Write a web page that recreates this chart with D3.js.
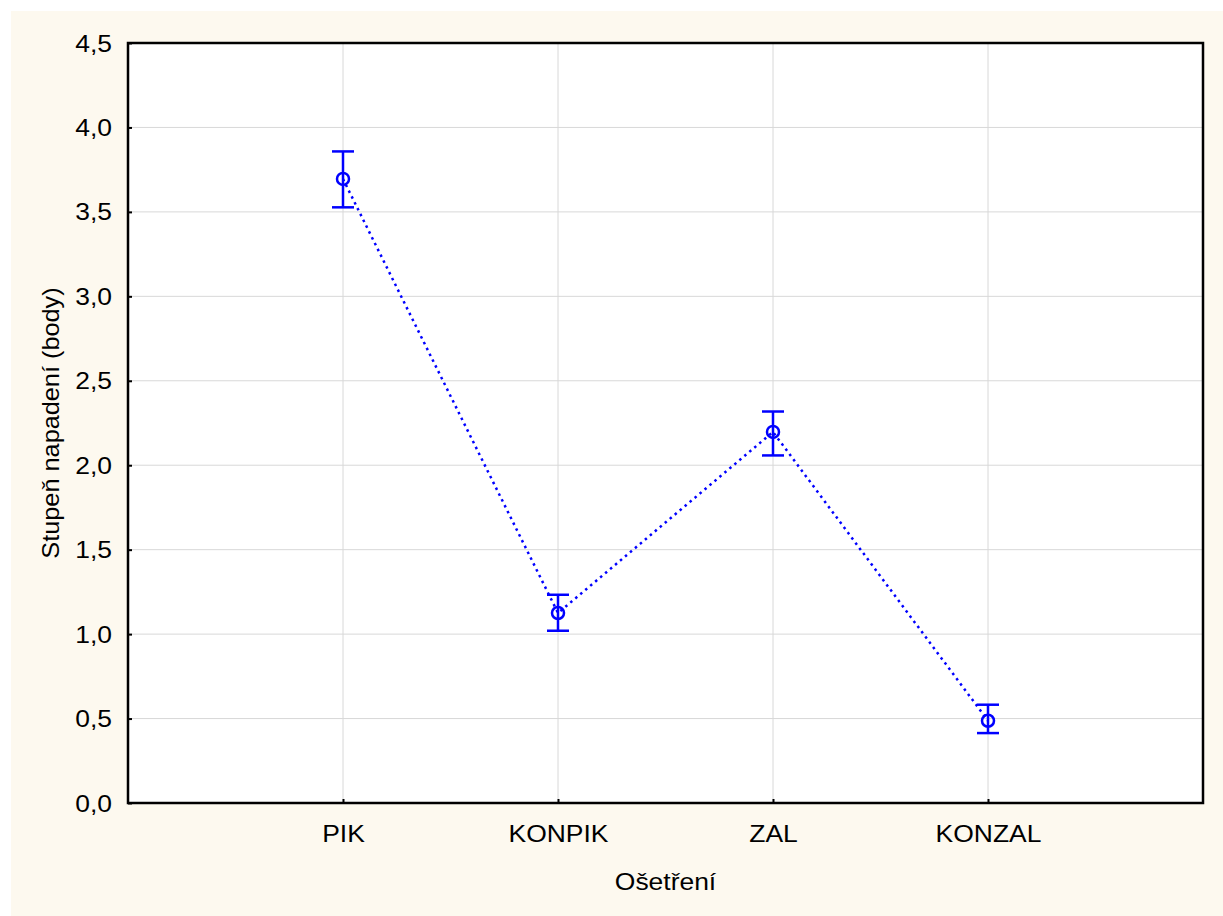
<!DOCTYPE html>
<html>
<head>
<meta charset="utf-8">
<script src="https://cdn.jsdelivr.net/npm/d3@7"></script>
<style>
  body { margin: 0; background: #ffffff; }
  text { font-family: "Liberation Sans", Arial, sans-serif; fill: #000; }
</style>
</head>
<body>
<div></div>
<script>
const width = 1223;
const height = 916;
const margin = { top: 43, right: 20, bottom: 113, left: 128 };
const stretch = 1.15; // text in the original is drawn a bit wider than Arial

// data
const treatments = ["PIK", "KONPIK", "ZAL", "KONZAL"];
const means = [3.695, 1.125, 2.197, 0.487];
const lower = [3.527, 1.02, 2.058, 0.414];
const upper = [3.858, 1.233, 2.318, 0.582];
const yTicks = [0, 0.5, 1, 1.5, 2, 2.5, 3, 3.5, 4, 4.5];

const points = treatments.map((t, i) => ({
  name: t,
  mean: means[i],
  lo: lower[i],
  hi: upper[i],
}));

const svg = d3
  .select("div")
  .append("svg")
  .attr("width", width)
  .attr("height", height);

// cream background panel
svg
  .append("rect")
  .attr("x", 11)
  .attr("y", 11)
  .attr("width", width - 11)
  .attr("height", height - 11)
  .attr("fill", "#fdf9ef");

const x0 = margin.left;
const x1 = 1203;
const y0 = 803;
const y1 = margin.top;

svg
  .append("rect")
  .attr("x", x0)
  .attr("y", y1)
  .attr("width", x1 - x0)
  .attr("height", y0 - y1)
  .attr("fill", "#fff");

const xScale = d3.scalePoint().domain(treatments).range([x0, x1]).padding(1);
const yScale = d3.scaleLinear().domain([0, 4.5]).range([y0, y1]);

// grid
svg
  .append("g")
  .selectAll("line")
  .data(yTicks.slice(1, -1))
  .enter()
  .append("line")
  .attr("x1", x0)
  .attr("x2", x1)
  .attr("y1", (d) => yScale(d))
  .attr("y2", (d) => yScale(d))
  .attr("stroke", "#d8d8d8")
  .attr("stroke-width", 1);

svg
  .append("g")
  .selectAll("line")
  .data(treatments)
  .enter()
  .append("line")
  .attr("x1", (d) => xScale(d))
  .attr("x2", (d) => xScale(d))
  .attr("y1", y1)
  .attr("y2", y0)
  .attr("stroke", "#d8d8d8")
  .attr("stroke-width", 1);

// axes (ticks pointing inwards)
const yAxis = d3
  .axisRight(yScale)
  .tickValues(yTicks)
  .tickSize(4)
  .tickFormat((d) => d3.format(".1f")(d).replace(".", ","));

const gy = svg
  .append("g")
  .attr("transform", "translate(" + x0 + ",0)")
  .call(yAxis);
gy.select(".domain").remove();
gy.selectAll("line").attr("stroke", "#000").attr("stroke-width", 2);
gy.selectAll("text")
  .attr("x", 0)
  .attr("dy", 0)
  .attr("text-anchor", "end")
  .attr("transform", "translate(-16,8) scale(" + stretch + ",1)")
  .style("font-size", "23px");

const xAxis = d3.axisTop(xScale).tickSize(4).tickFormat((d) => d);
const gx = svg
  .append("g")
  .attr("transform", "translate(0," + y0 + ")")
  .call(xAxis);
gx.select(".domain").remove();
gx.selectAll("line").attr("stroke", "#000").attr("stroke-width", 2);
gx.selectAll("text")
  .attr("y", 0)
  .attr("dy", 0)
  .attr("transform", "translate(0,39) scale(" + stretch + ",1)")
  .style("font-size", "23px");

// frame
svg
  .append("rect")
  .attr("x", x0)
  .attr("y", y1)
  .attr("width", x1 - x0)
  .attr("height", y0 - y1)
  .attr("fill", "none")
  .attr("stroke", "#000")
  .attr("stroke-width", 2.5);

// titles
svg
  .append("text")
  .attr("transform", "translate(" + (x0 + x1) / 2 + ",890) scale(" + stretch + ",1)")
  .attr("text-anchor", "middle")
  .style("font-size", "23px")
  .text("Ošetření");

svg
  .append("text")
  .attr("transform", "translate(59," + (y0 + y1) / 2 + ") rotate(-90) scale(1.1,1)")
  .attr("text-anchor", "middle")
  .style("font-size", "23px")
  .text("Stupeň napadení (body)");

// dotted line
const line = d3
  .line()
  .x((d) => xScale(d.name))
  .y((d) => yScale(d.mean));

svg
  .append("path")
  .datum(points)
  .attr("d", line)
  .attr("fill", "none")
  .attr("stroke", "#0000ff")
  .attr("stroke-width", 2.5)
  .attr("stroke-dasharray", "2.5,4");

// error bars
const eb = svg.append("g").attr("stroke", "#0000ff").attr("stroke-width", 2.5);

eb.selectAll(".whisker")
  .data(points)
  .enter()
  .append("line")
  .attr("x1", (d) => xScale(d.name))
  .attr("x2", (d) => xScale(d.name))
  .attr("y1", (d) => yScale(d.lo))
  .attr("y2", (d) => yScale(d.hi));

eb.selectAll(".capHi")
  .data(points)
  .enter()
  .append("line")
  .attr("x1", (d) => xScale(d.name) - 11)
  .attr("x2", (d) => xScale(d.name) + 11)
  .attr("y1", (d) => yScale(d.hi))
  .attr("y2", (d) => yScale(d.hi));

eb.selectAll(".capLo")
  .data(points)
  .enter()
  .append("line")
  .attr("x1", (d) => xScale(d.name) - 11)
  .attr("x2", (d) => xScale(d.name) + 11)
  .attr("y1", (d) => yScale(d.lo))
  .attr("y2", (d) => yScale(d.lo));

svg
  .append("g")
  .selectAll("circle")
  .data(points)
  .enter()
  .append("circle")
  .attr("cx", (d) => xScale(d.name))
  .attr("cy", (d) => yScale(d.mean))
  .attr("r", 6)
  .attr("fill", "none")
  .attr("stroke", "#0000ff")
  .attr("stroke-width", 2.5);
</script>
</body>
</html>
